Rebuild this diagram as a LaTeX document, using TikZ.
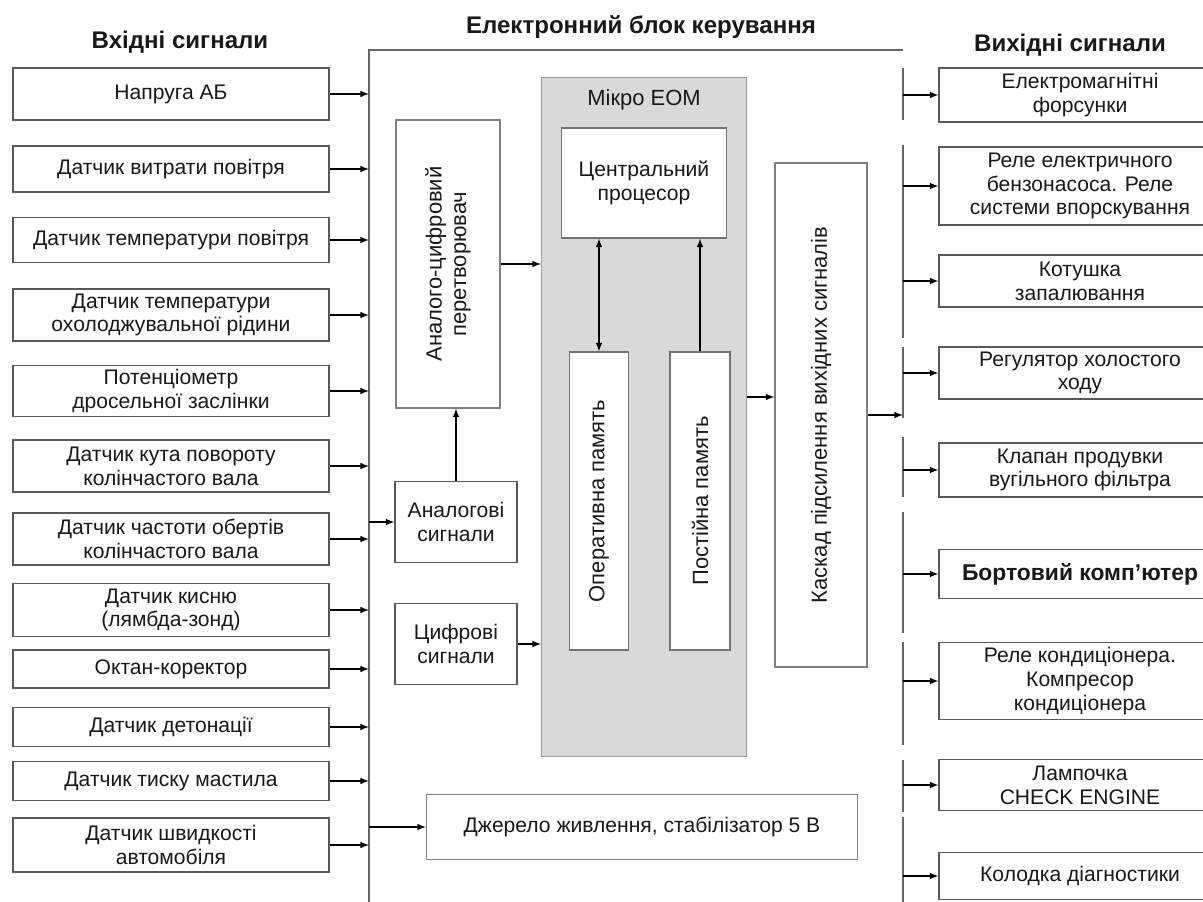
\documentclass[tikz,border=0pt]{standalone}
\usepackage{fontspec}
\setmainfont{Liberation Sans}
\usetikzlibrary{positioning}

\tikzset{
    boxsize/.style 2 args={minimum width=#1*0.02cm, minimum height=#2*0.02cm},
    box/.style={draw=black!65, fill=white, align=center, inner sep=1pt,
        font=\fontsize{12}{13.5}\selectfont, text=black!90},
    lbl/.style={align=center, inner sep=1pt, font=\fontsize{12.5}{14}\selectfont, text=black!90},
    title/.style={font=\fontsize{13.7}{15}\selectfont\bfseries, text=black!90},
    frame/.style={draw=black!60},
}

\begin{document}
\begin{tikzpicture}[x=0.02cm, y=-0.02cm, >=latex, line width=0.7pt]
    \useasboundingbox (0,0) rectangle (1203,902);
    \clip (0,0) rectangle (1203,902);

    \node[title] (t-in) at (180,42) {Вхідні сигнали};
    \node[title] (t-ecu) at (641,27) {Електронний блок керування};
    \node[title] (t-out) at (1070,45) {Вихідні сигнали};

    % frame of the control unit
    \coordinate (ecu-nw) at (369,50);
    \coordinate (ecu-ne) at (903,50);
    \draw[frame] (369,902) -- (ecu-nw) -- (ecu-ne);
    \foreach \a/\b in {68/120,145/338,347/418,437/497,512/633,642/745,760/812,817/902} {
            \draw[frame] (903,\a) -- (903,\b);
        }

    % input signals
    \foreach \i/\yc/\h/\txt in {
            1/94/52/{Напруга АБ},
            2/169/46/{Датчик витрати повітря},
            3/240/45/{Датчик температури повітря},
            4/315/52/{Датчик температури\\охолоджувальної рідини},
            5/391/51/{Потенціометр\\дросельної заслінки},
            6/466/52/{Датчик кута повороту\\колінчастого вала},
            7/539/52/{Датчик частоти обертів\\колінчастого вала},
            8/610/53/{Датчик кисню\\(лямбда-зонд)},
            9/669/38/{Октан-коректор},
            10/727/39/{Датчик детонації},
            11/781/39/{Датчик тиску мастила},
            12/845/54/{Датчик швидкості\\автомобіля}} {
            \node[box, boxsize={316}{\h}] (in-\i) at (171,\yc) {\txt};
            \draw[->] (in-\i) -- (in-\i -| ecu-nw);
        }

    % output signals
    \foreach \i/\yc/\h/\txt in {
            1/95/54/{Електромагнітні\\форсунки},
            2/186/78/{Реле електричного\\бензонасоса. Реле\\системи впорскування},
            3/281/52/{Котушка\\запалювання},
            4/373/52/{Регулятор холостого\\ходу},
            5/470/54/{Клапан продувки\\вугільного фільтра},
            6/574/49/{\fontsize{13}{14}\selectfont\bfseries Бортовий комп’ютер},
            7/681/77/{Реле кондиціонера.\\Компресор\\кондиціонера},
            8/785/51/{Лампочка\\CHECK ENGINE},
            9/876/47/{Колодка діагностики}} {
            \node[box, boxsize={282}{\h}] (out-\i) at (1080,\yc) {\txt};
            \draw[->] (out-\i -| ecu-ne) -- (out-\i);
        }

    % blocks inside the control unit
    \node[box, draw=black!50, boxsize={104}{288}] (adc) at (448,264) {};
    \node[lbl, rotate=90] (adc-txt) at (adc) {Аналого-цифровий\\перетворювач};
    \node[box, boxsize={122}{81}] (analog) at (456,522) {Аналогові\\сигнали};
    \node[box, boxsize={122}{81}] (digital) at (456,644) {Цифрові\\сигнали};

    \node[box, draw=black!40, fill=black!15, boxsize={205}{679}] (micro) at (644,417) {};
    \node[lbl, below=6pt of micro.north] (micro-txt) {Мікро ЕОМ};
    \node[box, draw=black!55, boxsize={165}{110}] (cpu) at (644,183) {Центральний\\процесор};
    \node[box, draw=black!55, boxsize={59}{298}] (ram) at (599,501) {};
    \node[lbl, rotate=90] (ram-txt) at (ram) {Оперативна память};
    \node[box, draw=black!55, boxsize={60}{298}] (rom) at (700,501) {};
    \node[lbl, rotate=90] (rom-txt) at (rom) {Постійна память};

    \node[box, draw=black!50, boxsize={92}{504}] (cascade) at (821,415) {};
    \node[lbl, rotate=90] (cascade-txt) at (cascade) {Каскад підсилення вихідних сигналів};

    \node[box, draw=black!50, boxsize={431}{65}] (power) at (642,827) {Джерело живлення, стабілізатор 5 В};

    % connections inside
    \draw[->] (analog.west -| ecu-nw) -- (analog.west);
    \draw[->] (power.west -| ecu-nw) -- (power.west);
    \draw[->] (analog.north) -- (analog.north |- adc.south);
    \draw[->] (adc.east) -- (adc.east -| micro.west);
    \draw[->] (digital.east) -- (digital.east -| micro.west);
    \draw[<->] (ram.north) -- (ram.north |- cpu.south);
    \draw[->] (rom.north) -- (rom.north |- cpu.south);
    \coordinate (micro-out) at ([yshift=0.4cm]micro.east);
    \draw[->] (micro-out) -- (micro-out -| cascade.west);
    \draw[->] (cascade.east) -- (cascade.east -| ecu-ne);
\end{tikzpicture}
\end{document}
